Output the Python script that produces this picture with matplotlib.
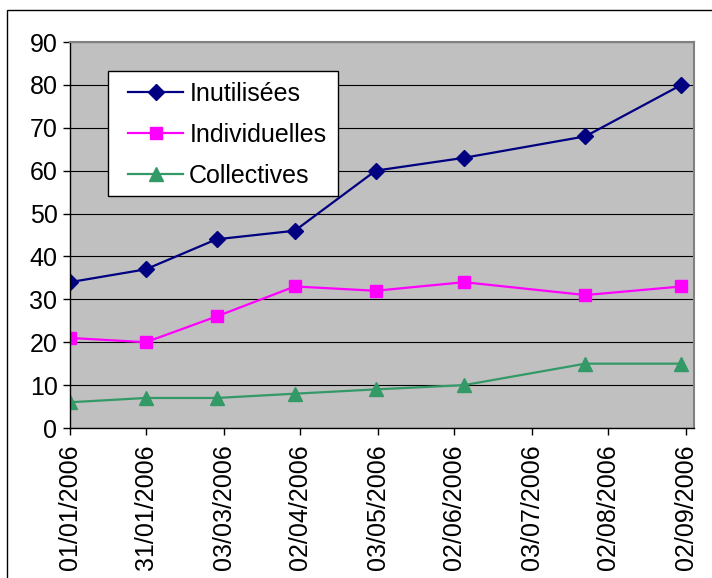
import numpy as np
import matplotlib
matplotlib.use("Agg")
import matplotlib.pyplot as plt
import matplotlib.dates as mdates
from matplotlib.patches import Rectangle

plt.rcParams['font.family'] = ['Liberation Sans', 'DejaVu Sans']

# dates des relevés
dates = np.array(['2006-01-01', '2006-01-31', '2006-02-28', '2006-03-31',
                  '2006-05-02', '2006-06-06', '2006-07-24', '2006-08-31'],
                 dtype='datetime64[D]')
inutilisees = [34, 37, 44, 46, 60, 63, 68, 80]
individuelles = [21, 20, 26, 33, 32, 34, 31, 33]
collectives = [6, 7, 7, 8, 9, 10, 15, 15]

tick_labels = ['01/01/2006', '31/01/2006', '03/03/2006', '02/04/2006', '03/05/2006',
               '02/06/2006', '03/07/2006', '02/08/2006', '02/09/2006']

W, H = 712, 578
fig = plt.figure(figsize=(W / 100, H / 100), dpi=100)

# cadre extérieur (dépasse à droite et en bas)
fig.patches.append(Rectangle((7 / W, -0.1), 1.2, 1 - 10 / H + 0.1, transform=fig.transFigure,
                             fill=False, edgecolor='black', lw=1))

ax = fig.add_axes([70 / W, 1 - 428 / H, (694 - 70) / W, (428 - 42) / H])
ax.set_facecolor('#C0C0C0')

x = dates.astype(object)
ax.plot(x, inutilisees, color='#000080', marker='D', markersize=8, lw=1.6, label='Inutilisées')
ax.plot(x, individuelles, color='#FF00FF', marker='s', markersize=8.5, lw=1.6, label='Individuelles')
ax.plot(x, collectives, color='#339966', marker='^', markersize=10, lw=1.6, label='Collectives')

# axe y
ax.set_ylim(0, 90)
ax.set_yticks(range(0, 91, 10))
ax.yaxis.grid(True, color='black', lw=0.8)
ax.set_axisbelow(True)

# axe x : graduations toutes les ~30,5 jours
tick_dates = [np.datetime64('-'.join(reversed(t.split('/')))) for t in tick_labels]
ax.set_xticks([mdates.date2num(d.astype(object)) for d in tick_dates])
ax.set_xticklabels(tick_labels, rotation=90)
start = mdates.date2num(dates[0].astype(object))
ax.set_xlim(start, start + 247)

ax.tick_params(axis='both', direction='out', length=5, width=1, labelsize=18, color='black')
ax.tick_params(axis='y', pad=4)
ax.tick_params(axis='x', pad=7)

for s in ['top', 'right']:
    ax.spines[s].set_color('#808080')
    ax.spines[s].set_linewidth(1.5)
for s in ['left', 'bottom']:
    ax.spines[s].set_color('black')
    ax.spines[s].set_linewidth(1)

# cadre de la légende dessiné à part
ax.add_patch(Rectangle((108 / W, 1 - 196 / H), 230 / W, 125 / H, transform=fig.transFigure,
                       facecolor='white', edgecolor='black', lw=1, zorder=4))
leg = ax.legend(loc='upper left', bbox_to_anchor=(128 / W, 1 - 82 / H),
                bbox_transform=fig.transFigure, fontsize=18, frameon=False,
                borderaxespad=0, borderpad=0, handlelength=2.2, handletextpad=0.25,
                labelspacing=0.68)
leg.set_zorder(5)

fig.savefig('out.png', dpi=100)
